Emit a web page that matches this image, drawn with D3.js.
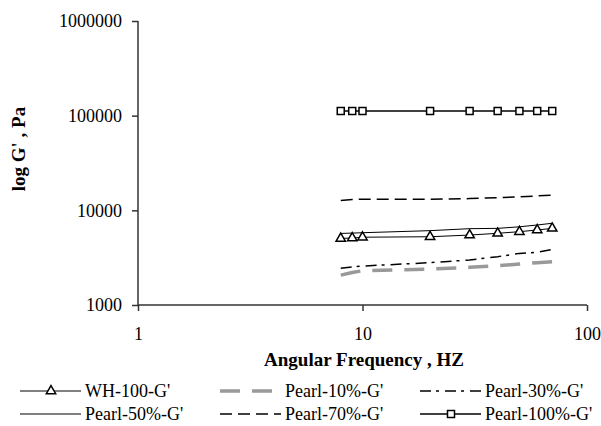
<!DOCTYPE html>
<html lang="en">
  <head>
    <meta charset="UTF-8" />
    <title>log G' vs Angular Frequency</title>
    <script src="https://d3js.org/d3.v7.min.js"></script>
    <style>
      body {
        margin: 0;
        background: #fff;
      }
      svg text {
        font-family: 'Liberation Serif', 'DejaVu Serif', serif;
      }
      .title {
        font-size: 19px;
        font-weight: bold;
      }
      .legend-text {
        font-size: 18px;
      }
    </style>
  </head>
  <body>
    <svg width="601" height="426"></svg>
    <script>
      // frequency points (Hz)
      const freq = [8, 9, 10, 20, 30, 40, 50, 60, 70];

      // G' values, Pa
      const wh100 = [5050, 5100, 5200, 5260, 5480, 5720, 5950, 6200, 6450];
      const pearl10 = [2070, 2200, 2300, 2400, 2500, 2600, 2710, 2800, 2870];
      const pearl30 = [2440, 2520, 2580, 2800, 2990, 3240, 3510, 3600, 3870];
      const pearl50 = [5700, 5750, 5800, 6100, 6400, 6450, 6700, 7000, 7300];
      const pearl70 = [12700, 13000, 13100, 13100, 13300, 13600, 13900, 14200, 14500];
      const pearl100 = [112000, 112000, 112000, 112000, 112000, 112000, 112000, 112000, 112000];

      const yTicks = [1000, 10000, 100000, 1000000];
      const xTicks = [1, 10, 100];

      const series = [
        { name: "WH-100-G'", values: wh100, color: '#000', width: 1, dash: null, marker: 'triangle' },
        { name: "Pearl-10%-G'", values: pearl10, color: '#999', width: 3.5, dash: '20,12', marker: null },
        { name: "Pearl-30%-G'", values: pearl30, color: '#000', width: 1.5, dash: '11,5,3,6', marker: null },
        { name: "Pearl-50%-G'", values: pearl50, color: '#000', width: 1, dash: null, marker: null },
        { name: "Pearl-70%-G'", values: pearl70, color: '#000', width: 1.5, dash: '12,6', marker: null },
        { name: "Pearl-100%-G'", values: pearl100, color: '#000', width: 1.5, dash: null, marker: 'square' },
      ];

      const svg = d3.select('svg');
      const plotL = 138, plotR = 587, plotT = 21, plotB = 305;
      const serif = "'Liberation Serif', 'DejaVu Serif', serif";

      const x = d3.scaleLog().domain([1, 100]).range([plotL, plotR]);
      const y = d3.scaleLog().domain([1000, 1000000]).range([plotB, plotT]);

      // axes
      const yAxis = svg
        .append('g')
        .attr('transform', `translate(${plotL},0)`)
        .call(d3.axisLeft(y).tickValues(yTicks).tickFormat(d3.format('d')).tickSize(6).tickPadding(10));
      const xAxis = svg
        .append('g')
        .attr('transform', `translate(0,${plotB})`)
        .call(d3.axisBottom(x).tickValues(xTicks).tickFormat(d3.format('d')).tickSize(6).tickPadding(16));
      [yAxis, xAxis].forEach((a) => {
        a.attr('font-family', serif).attr('font-size', 18);
        a.select('.domain').attr('stroke', '#333').attr('stroke-width', 1.5);
        a.selectAll('.tick line').attr('stroke', '#333').attr('stroke-width', 1.5);
        a.selectAll('.tick text').attr('fill', '#000');
      });
      // plain domain lines, no end caps
      yAxis.select('.domain').attr('d', `M0,${plotT}V${plotB}`);
      xAxis.select('.domain').attr('d', `M${plotL},0H${plotR}`);

      // titles
      svg
        .append('text')
        .attr('class', 'title')
        .attr('font-family', serif)
        .attr('x', 364)
        .attr('y', 366)
        .attr('text-anchor', 'middle')
        .text('Angular Frequency , HZ');
      svg
        .append('text')
        .attr('class', 'title')
        .attr('font-family', serif)
        .attr('transform', 'translate(25,149) rotate(-90)')
        .attr('text-anchor', 'middle')
        .text("log G' , Pa");

      const line = d3
        .line()
        .x((d, i) => x(freq[i]))
        .y((d) => y(d));

      const tri = d3.symbol().type(d3.symbolTriangle).size(38);
      const sq = d3.symbol().type(d3.symbolSquare).size(49);

      function drawMarker(g, type, cx, cy) {
        g.append('path')
          .attr('d', type === 'triangle' ? tri() : sq())
          .attr('transform', `translate(${cx},${cy})`)
          .attr('fill', '#fff')
          .attr('stroke', '#000')
          .attr('stroke-width', 1.5);
      }

      series.forEach((s) => {
        const g = svg.append('g');
        g.append('path')
          .datum(s.values)
          .attr('d', line)
          .attr('fill', 'none')
          .attr('stroke', s.color)
          .attr('stroke-width', s.width)
          .attr('stroke-dasharray', s.dash);
        if (s.marker) {
          s.values.forEach((v, i) => drawMarker(g, s.marker, x(freq[i]), y(v)));
        }
      });

      // legend
      const legCols = [20, 220, 420];
      const legRows = [391, 414];
      series.forEach((s, i) => {
        const lx = legCols[i % 3];
        const ly = legRows[Math.floor(i / 3)];
        const g = svg.append('g');
        g.append('line')
          .attr('x1', lx)
          .attr('x2', lx + 61)
          .attr('y1', ly)
          .attr('y2', ly)
          .attr('stroke', s.color)
          .attr('stroke-width', s.width)
          .attr('stroke-dasharray', s.dash);
        if (s.marker) drawMarker(g, s.marker, lx + 31, ly);
        g.append('text')
          .attr('class', 'legend-text')
          .attr('font-family', serif)
          .attr('x', lx + 65)
          .attr('y', ly)
          .attr('dy', '0.32em')
          .text(s.name);
      });
    </script>
  </body>
</html>
